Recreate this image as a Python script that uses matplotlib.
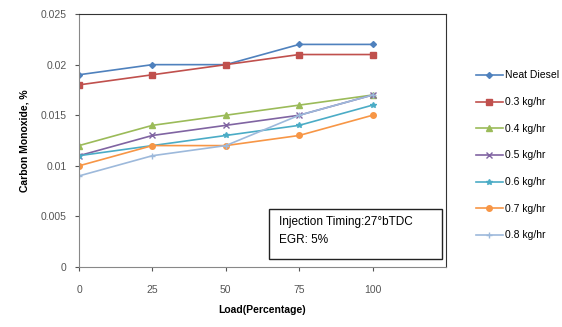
import matplotlib.pyplot as plt
from matplotlib.patches import Rectangle

load = [0, 25, 50, 75, 100]
labels = ["Neat Diesel", "0.3 kg/hr", "0.4 kg/hr", "0.5 kg/hr",
          "0.6 kg/hr", "0.7 kg/hr", "0.8 kg/hr"]
neat_diesel = [0.019, 0.020, 0.020, 0.022, 0.022]
egr_03 = [0.018, 0.019, 0.020, 0.021, 0.021]
egr_04 = [0.012, 0.014, 0.015, 0.016, 0.017]
egr_05 = [0.011, 0.013, 0.014, 0.015, 0.017]
egr_06 = [0.011, 0.012, 0.013, 0.014, 0.016]
egr_07 = [0.010, 0.012, 0.012, 0.013, 0.015]
egr_08 = [0.009, 0.011, 0.012, 0.015, 0.017]

series = [neat_diesel, egr_03, egr_04, egr_05, egr_06, egr_07, egr_08]
colors = ["#4F81BD", "#C0504D", "#9BBB59", "#8064A2", "#4BACC6", "#F79646", "#9DB9DB"]
markers = ["D", "s", "^", "x", "*", "o", "+"]
sizes = [3, 4, 4, 4, 4, 4, 5]

plt.rcParams['font.family'] = ['Liberation Sans', 'DejaVu Sans']

fig = plt.figure(figsize=(5.62, 3.27), dpi=100)
ax = fig.add_axes([0.1406, 0.1835, 0.6530, 0.7735])

for vals, lab, c, m, s in zip(series, labels, colors, markers, sizes):
    ax.plot(load, vals, color=c, marker=m, markersize=s, linewidth=1.2,
            markeredgewidth=1, label=lab)

ax.set_xlim(0, 125)
ax.set_ylim(0, 0.025)
ax.set_xticks(load)
ax.set_yticks([0, 0.005, 0.01, 0.015, 0.02, 0.025])
ax.set_yticklabels(["0", "0.005", "0.01", "0.015", "0.02", "0.025"])
ax.tick_params(labelsize=7.5, colors="#555555", length=3, pad=6)
ax.tick_params(axis="x", pad=10)
for side in ["top", "right"]:
    ax.spines[side].set_color("#333333")
for side in ["left", "bottom"]:
    ax.spines[side].set_color("#888888")

ax.set_xlabel("Load(Percentage)", fontsize=7.5, fontweight="bold", labelpad=7)
ax.set_ylabel("Carbon Monoxide, %", fontsize=7.5, fontweight="bold", labelpad=8)

# annotation box
ax.add_patch(Rectangle((0.518, 0.032), 0.471, 0.197, transform=ax.transAxes,
                       facecolor="white", edgecolor="#222222", linewidth=1, zorder=5))
ax.text(0.545, 0.178, "Injection Timing:27\u00b0bTDC", transform=ax.transAxes,
        fontsize=8.5, va="center", ha="left", zorder=6)
ax.text(0.545, 0.105, "EGR: 5%", transform=ax.transAxes,
        fontsize=8.5, va="center", ha="left", zorder=6)

fig.legend(loc="center left", bbox_to_anchor=(0.83, 0.5245), frameon=False,
           fontsize=7.5, labelspacing=1.6, handlelength=2.6, handletextpad=0.2)

fig.savefig("out.png", dpi=100)
